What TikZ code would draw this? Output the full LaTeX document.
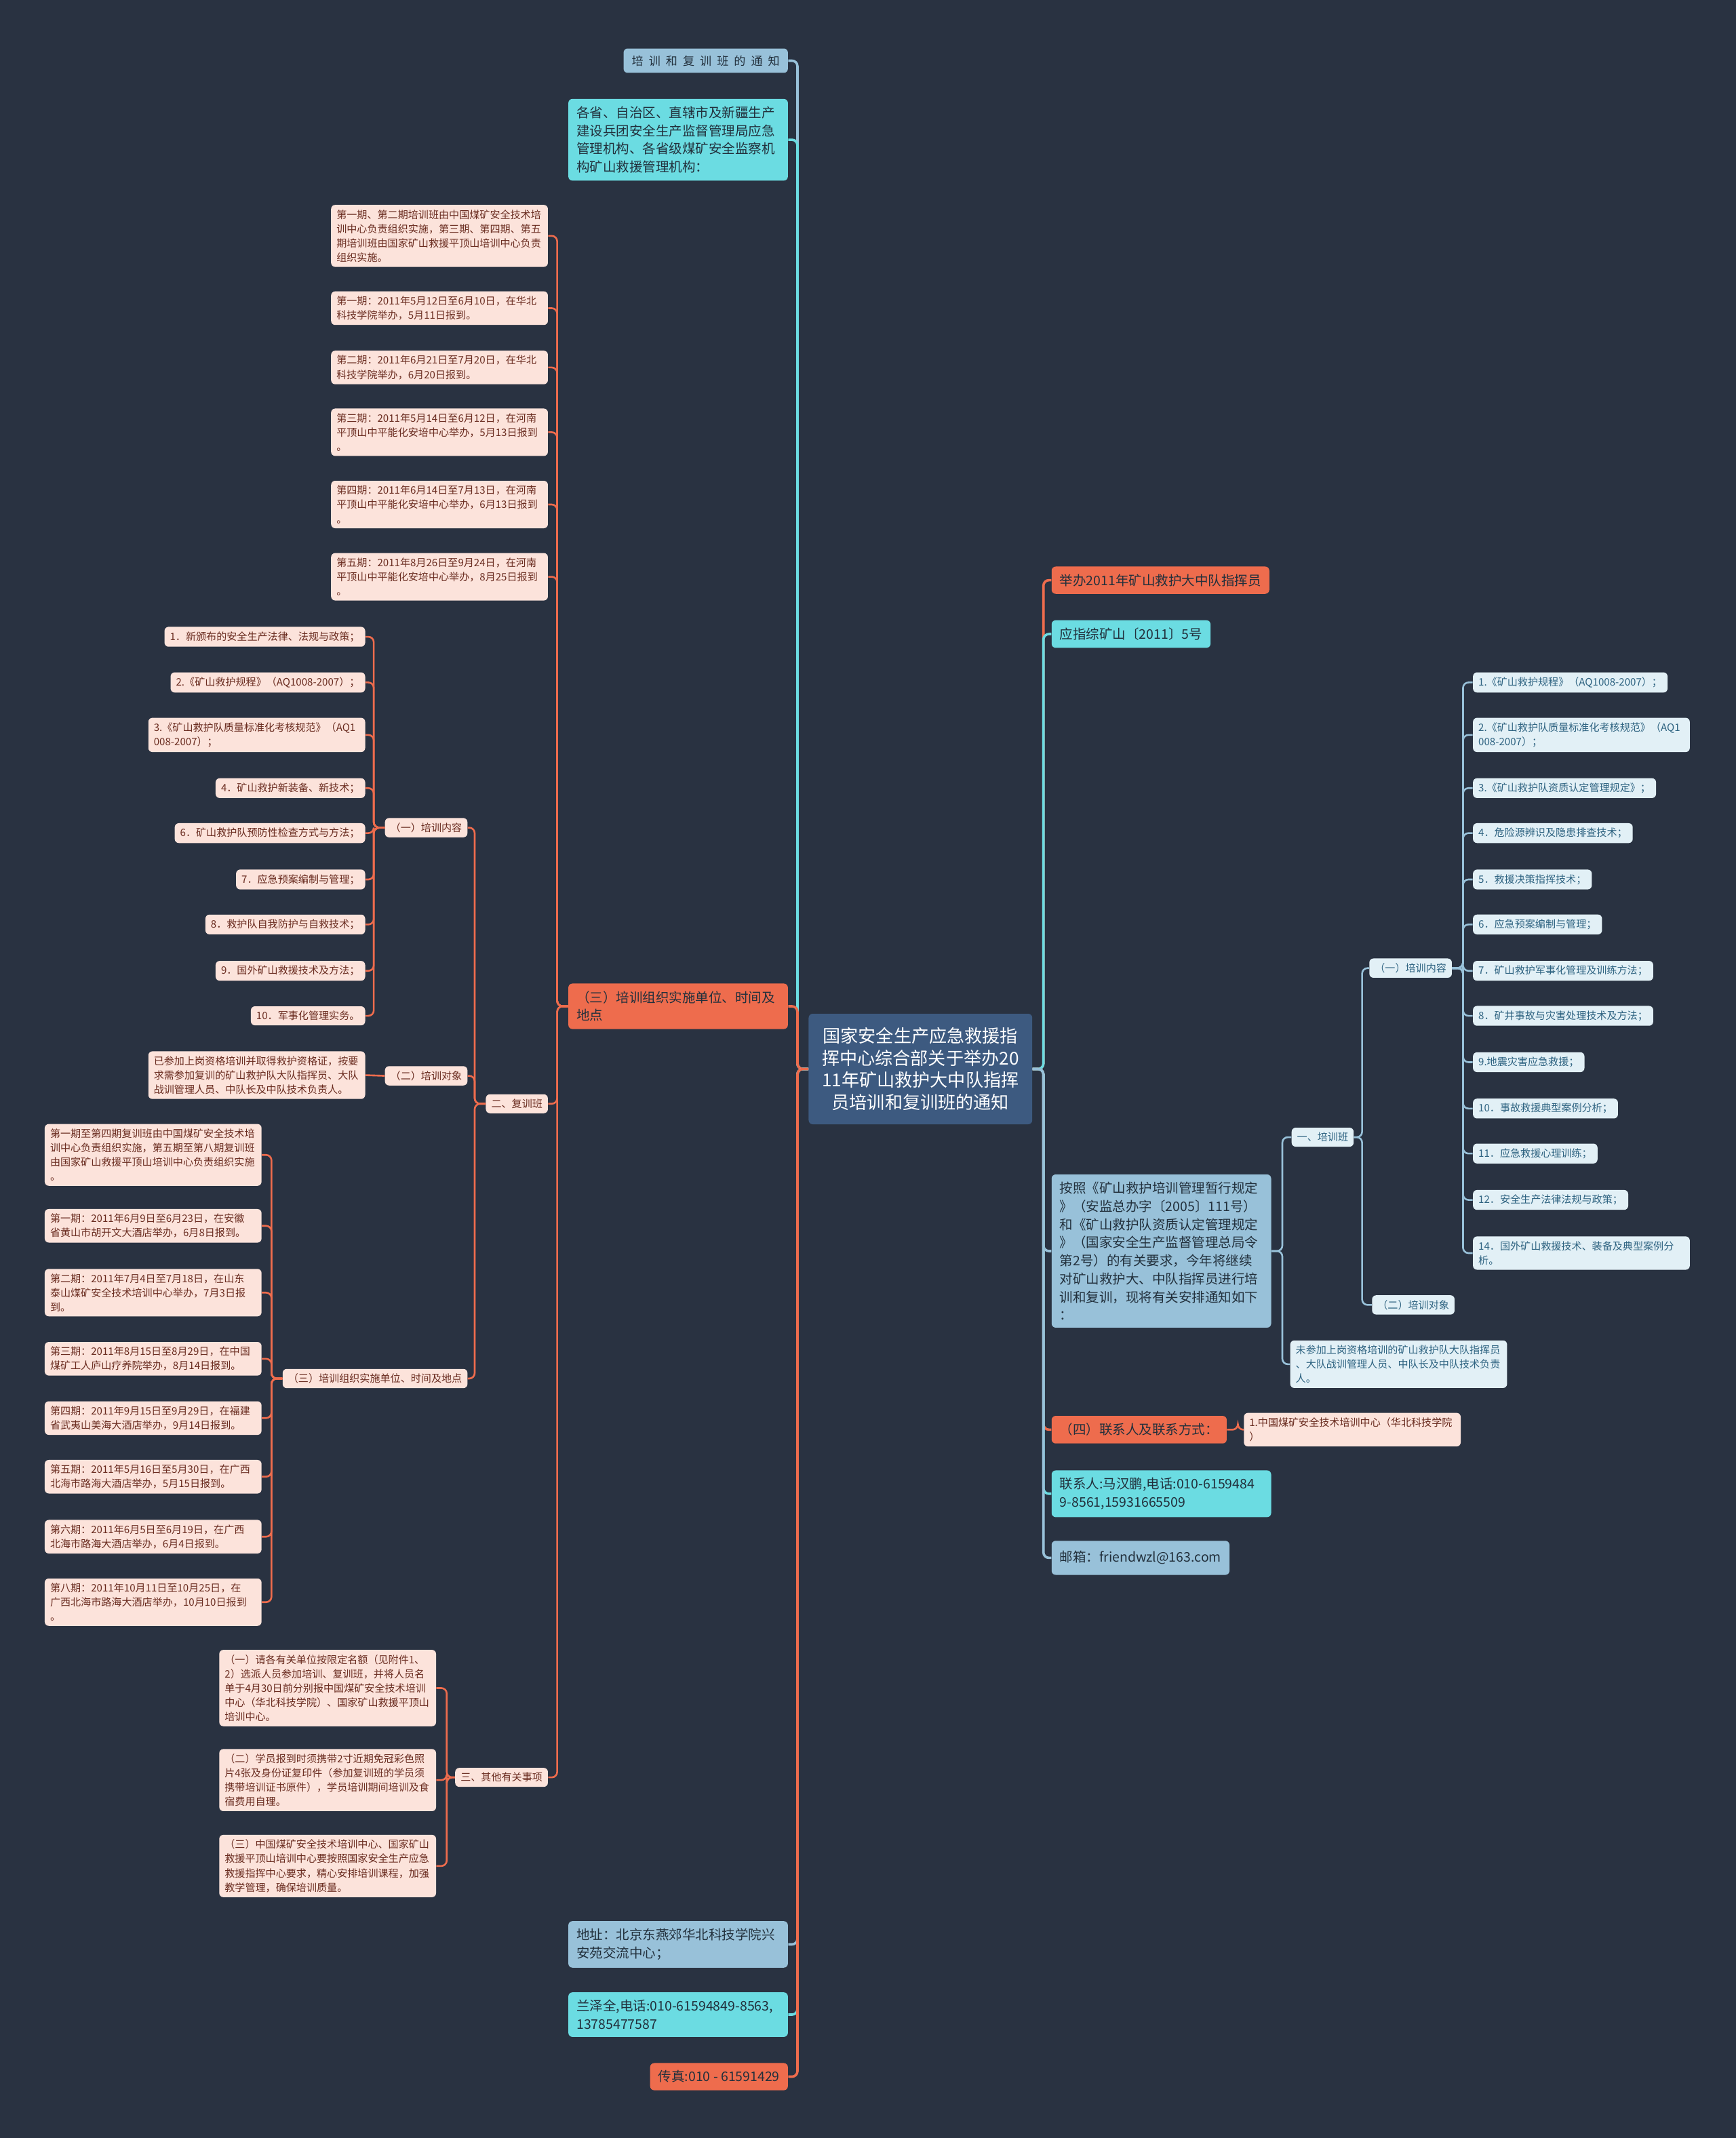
\documentclass[tikz,border=0pt]{standalone}
\usepackage{fontspec}
\setmainfont{Noto Sans CJK SC}
\usepackage{tikz}
\definecolor{bgdark}{HTML}{293241}
\definecolor{rootblue}{HTML}{3D5A80}
\definecolor{steel}{HTML}{98C1D9}
\definecolor{aqua}{HTML}{6BDCE2}
\definecolor{coral}{HTML}{EE6C4D}
\definecolor{peach}{HTML}{FCE3DB}
\definecolor{mist}{HTML}{E2F0F6}
\definecolor{inkbrown}{HTML}{6A2C20}
\definecolor{inkblue}{HTML}{2E6381}
\definecolor{inkdark}{HTML}{22303C}

\begin{document}
\begin{tikzpicture}[x=1pt, y=-1pt,
  base/.style={rectangle, rounded corners=3pt, align=left},
  big/.style={base, font=\fontsize{9.7}{13.3}\selectfont, inner xsep=6pt, inner ysep=5.5pt, text=inkdark},
  bigwide/.style={big, text width=149pt},
  small/.style={base, font=\fontsize{7.5}{10.5}\selectfont, inner xsep=4pt, inner ysep=3.5pt},
  pinkleaf/.style={small, fill=peach, text=inkbrown},
  blueleaf/.style={small, fill=mist, text=inkblue},
  wide/.style={text width=151pt},
  root/.style={rectangle, rounded corners=3pt, fill=rootblue, text=white, align=center, font=\fontsize{13}{16.3}\selectfont, minimum width=164pt, inner ysep=10pt},
  link/.style={line width=1.3pt, rounded corners=4pt},
  rootlink/.style={link, line width=1.8pt}
]
\fill[bgdark] (0,0) rectangle (1273,1568);

\node[root] (root) at (675,784) {国家安全生产应急救援指\\挥中心综合部关于举办20\\11年矿山救护大中队指挥\\员培训和复训班的通知};

\node[big, fill=steel, anchor=east, font=\fontsize{8.5}{10}\selectfont, inner ysep=5pt] (notice) at (578,44.5) {培\hspace{4pt}训\hspace{4pt}和\hspace{4pt}复\hspace{4pt}训\hspace{4pt}班\hspace{4pt}的\hspace{4pt}通\hspace{4pt}知};
\node[bigwide, fill=aqua, anchor=east] (prov) at (578,102.5) {各省、自治区、直辖市及新疆生产\\建设兵团安全生产监督管理局应急\\管理机构、各省级煤矿安全监察机\\构矿山救援管理机构：};
\node[bigwide, fill=coral, anchor=east] (org) at (578,738) {（三）培训组织实施单位、时间及\\地点};
\node[bigwide, fill=steel, anchor=east] (addr) at (578,1426) {地址：北京东燕郊华北科技学院兴\\安苑交流中心；};
\node[bigwide, fill=aqua, anchor=east] (lan) at (578,1477.5) {兰泽全,电话:010-61594849-8563,\\13785477587};
\node[big, fill=coral, anchor=east] (fax) at (578,1523) {传真:010 - 61591429};

\node[big, fill=coral, anchor=west] (hold) at (771,425.5) {举办2011年矿山救护大中队指挥员};
\node[big, fill=aqua, anchor=west] (docno) at (771,465) {应指综矿山〔2011〕5号};
\node[bigwide, fill=steel, anchor=west] (basis) at (771,917.5) {按照《矿山救护培训管理暂行规定\\》（安监总办字〔2005〕111号）\\和《矿山救护队资质认定管理规定\\》（国家安全生产监督管理总局令\\第2号）的有关要求，今年将继续\\对矿山救护大、中队指挥员进行培\\训和复训，现将有关安排通知如下\\：};
\node[big, fill=coral, anchor=west] (contact) at (771,1048.5) {（四）联系人及联系方式：};
\node[bigwide, fill=aqua, anchor=west] (phone) at (771,1095.5) {联系人:马汉鹏,电话:010-6159484\\9-8561,15931665509};
\node[big, fill=steel, anchor=west, minimum height=25pt] (mail) at (771,1142.5) {邮箱：friendwzl@163.com};
\node[pinkleaf, wide, anchor=west] (cinfo) at (912,1048.5) {1.中国煤矿安全技术培训中心（华北科技学院\\）};

\node[pinkleaf, wide, anchor=east] (p0) at (402,173) {第一期、第二期培训班由中国煤矿安全技术培\\训中心负责组织实施，第三期、第四期、第五\\期培训班由国家矿山救援平顶山培训中心负责\\组织实施。};
\node[pinkleaf, wide, anchor=east] (p1) at (402,226) {第一期：2011年5月12日至6月10日，在华北\\科技学院举办，5月11日报到。};
\node[pinkleaf, wide, anchor=east] (p2) at (402,269.5) {第二期：2011年6月21日至7月20日，在华北\\科技学院举办，6月20日报到。};
\node[pinkleaf, wide, anchor=east] (p3) at (402,317) {第三期：2011年5月14日至6月12日，在河南\\平顶山中平能化安培中心举办，5月13日报到\\。};
\node[pinkleaf, wide, anchor=east] (p4) at (402,370) {第四期：2011年6月14日至7月13日，在河南\\平顶山中平能化安培中心举办，6月13日报到\\。};
\node[pinkleaf, wide, anchor=east] (p5) at (402,423) {第五期：2011年8月26日至9月24日，在河南\\平顶山中平能化安培中心举办，8月25日报到\\。};
\node[pinkleaf, anchor=east] (refresher) at (402,809.5) {二、复训班};
\node[pinkleaf, anchor=east] (misc) at (402,1303.5) {三、其他有关事项};

\node[pinkleaf, anchor=east] (rcontent) at (343,607) {（一）培训内容};
\node[pinkleaf, anchor=east] (rtarget) at (343,789) {（二）培训对象};
\node[pinkleaf, anchor=east] (rplace) at (343,1011) {（三）培训组织实施单位、时间及地点};

\node[pinkleaf, anchor=east] (c1) at (268,467) {1．新颁布的安全生产法律、法规与政策；};
\node[pinkleaf, anchor=east] (c2) at (268,500.5) {2.《矿山救护规程》（AQ1008-2007）；};
\node[pinkleaf, wide, anchor=east] (c3) at (268,539) {3.《矿山救护队质量标准化考核规范》（AQ1\\008-2007）；};
\node[pinkleaf, anchor=east] (c4) at (268,578) {4．矿山救护新装备、新技术；};
\node[pinkleaf, anchor=east] (c6) at (268,611) {6．矿山救护队预防性检查方式与方法；};
\node[pinkleaf, anchor=east] (c7) at (268,645) {7．应急预案编制与管理；};
\node[pinkleaf, anchor=east] (c8) at (268,678) {8．救护队自我防护与自救技术；};
\node[pinkleaf, anchor=east] (c9) at (268,712) {9．国外矿山救援技术及方法；};
\node[pinkleaf, anchor=east] (c10) at (268,745) {10．军事化管理实务。};

\node[pinkleaf, wide, anchor=east] (rwho) at (268,788.5) {已参加上岗资格培训并取得救护资格证，按要\\求需参加复训的矿山救护队大队指挥员、大队\\战训管理人员、中队长及中队技术负责人。};

\node[pinkleaf, wide, anchor=east] (r0) at (192,847) {第一期至第四期复训班由中国煤矿安全技术培\\训中心负责组织实施，第五期至第八期复训班\\由国家矿山救援平顶山培训中心负责组织实施\\。};
\node[pinkleaf, wide, anchor=east] (r1) at (192,899) {第一期：2011年6月9日至6月23日，在安徽\\省黄山市胡开文大酒店举办，6月8日报到。};
\node[pinkleaf, wide, anchor=east] (r2) at (192,948) {第二期：2011年7月4日至7月18日，在山东\\泰山煤矿安全技术培训中心举办，7月3日报\\到。};
\node[pinkleaf, wide, anchor=east] (r3) at (192,996.5) {第三期：2011年8月15日至8月29日，在中国\\煤矿工人庐山疗养院举办，8月14日报到。};
\node[pinkleaf, wide, anchor=east] (r4) at (192,1040) {第四期：2011年9月15日至9月29日，在福建\\省武夷山美海大酒店举办，9月14日报到。};
\node[pinkleaf, wide, anchor=east] (r5) at (192,1083) {第五期：2011年5月16日至5月30日，在广西\\北海市路海大酒店举办，5月15日报到。};
\node[pinkleaf, wide, anchor=east] (r6) at (192,1127) {第六期：2011年6月5日至6月19日，在广西\\北海市路海大酒店举办，6月4日报到。};
\node[pinkleaf, wide, anchor=east] (r8) at (192,1175) {第八期：2011年10月11日至10月25日，在\\广西北海市路海大酒店举办，10月10日报到\\。};

\node[pinkleaf, wide, anchor=east] (m1) at (320,1238) {（一）请各有关单位按限定名额（见附件1、\\2）选派人员参加培训、复训班，并将人员名\\单于4月30日前分别报中国煤矿安全技术培训\\中心（华北科技学院）、国家矿山救援平顶山\\培训中心。};
\node[pinkleaf, wide, anchor=east] (m2) at (320,1305.5) {（二）学员报到时须携带2寸近期免冠彩色照\\片4张及身份证复印件（参加复训班的学员须\\携带培训证书原件），学员培训期间培训及食\\宿费用自理。};
\node[pinkleaf, wide, anchor=east] (m3) at (320,1368.5) {（三）中国煤矿安全技术培训中心、国家矿山\\救援平顶山培训中心要按照国家安全生产应急\\救援指挥中心要求，精心安排培训课程，加强\\教学管理，确保培训质量。};

\node[blueleaf, anchor=west] (train) at (947,834) {一、培训班};
\node[blueleaf, wide, anchor=west] (notyet) at (946,1000.5) {未参加上岗资格培训的矿山救护队大队指挥员\\、大队战训管理人员、中队长及中队技术负责\\人。};
\node[blueleaf, anchor=west] (tcontent) at (1004,710) {（一）培训内容};
\node[blueleaf, anchor=west] (ttarget) at (1006,957) {（二）培训对象};

\node[blueleaf, anchor=west] (t1) at (1080,500.5) {1.《矿山救护规程》（AQ1008-2007）；};
\node[blueleaf, wide, anchor=west] (t2) at (1080,539) {2.《矿山救护队质量标准化考核规范》（AQ1\\008-2007）；};
\node[blueleaf, anchor=west] (t3) at (1080,578) {3.《矿山救护队资质认定管理规定》；};
\node[blueleaf, anchor=west] (t4) at (1080,611) {4．危险源辨识及隐患排查技术；};
\node[blueleaf, anchor=west] (t5) at (1080,645) {5．救援决策指挥技术；};
\node[blueleaf, anchor=west] (t6) at (1080,678) {6．应急预案编制与管理；};
\node[blueleaf, anchor=west] (t7) at (1080,712) {7．矿山救护军事化管理及训练方法；};
\node[blueleaf, anchor=west] (t8) at (1080,745) {8．矿井事故与灾害处理技术及方法；};
\node[blueleaf, anchor=west] (t9) at (1080,779) {9.地震灾害应急救援；};
\node[blueleaf, anchor=west] (t10) at (1080,813) {10．事故救援典型案例分析；};
\node[blueleaf, anchor=west] (t11) at (1080,846) {11．应急救援心理训练；};
\node[blueleaf, anchor=west] (t12) at (1080,880) {12．安全生产法律法规与政策；};
\node[blueleaf, wide, anchor=west] (t14) at (1080,919) {14．国外矿山救援技术、装备及典型案例分\\析。};

\draw[rootlink, steel] (root.west) -- ++(-8,0) |- (notice.east);
\draw[rootlink, aqua] (root.west) -- ++(-8,0) |- (prov.east);
\draw[rootlink, coral] (root.west) -- ++(-8,0) |- (org.east);
\draw[rootlink, steel] (root.west) -- ++(-8,0) |- (addr.east);
\draw[rootlink, aqua] (root.west) -- ++(-8,0) |- (lan.east);
\draw[rootlink, coral] (root.west) -- ++(-8,0) |- (fax.east);

\draw[rootlink, coral] (root.east) -- ++(8,0) |- (hold.west);
\draw[rootlink, aqua] (root.east) -- ++(8,0) |- (docno.west);
\draw[rootlink, steel] (root.east) -- ++(8,0) |- (basis.west);
\draw[rootlink, coral] (root.east) -- ++(8,0) |- (contact.west);
\draw[rootlink, aqua] (root.east) -- ++(8,0) |- (phone.west);
\draw[rootlink, steel] (root.east) -- ++(8,0) |- (mail.west);

\draw[link, coral] (org.west) -- ++(-8,0) |- (p0.east);
\draw[link, coral] (org.west) -- ++(-8,0) |- (p1.east);
\draw[link, coral] (org.west) -- ++(-8,0) |- (p2.east);
\draw[link, coral] (org.west) -- ++(-8,0) |- (p3.east);
\draw[link, coral] (org.west) -- ++(-8,0) |- (p4.east);
\draw[link, coral] (org.west) -- ++(-8,0) |- (p5.east);
\draw[link, coral] (org.west) -- ++(-8,0) |- (refresher.east);
\draw[link, coral] (org.west) -- ++(-8,0) |- (misc.east);

\draw[link, coral] (refresher.west) -- ++(-8,0) |- (rcontent.east);
\draw[link, coral] (refresher.west) -- ++(-8,0) |- (rtarget.east);
\draw[link, coral] (refresher.west) -- ++(-8,0) |- (rplace.east);

\draw[link, coral] (rcontent.west) -- ++(-8,0) |- (c1.east);
\draw[link, coral] (rcontent.west) -- ++(-8,0) |- (c2.east);
\draw[link, coral] (rcontent.west) -- ++(-8,0) |- (c3.east);
\draw[link, coral] (rcontent.west) -- ++(-8,0) |- (c4.east);
\draw[link, coral] (rcontent.west) -- ++(-8,0) |- (c6.east);
\draw[link, coral] (rcontent.west) -- ++(-8,0) |- (c7.east);
\draw[link, coral] (rcontent.west) -- ++(-8,0) |- (c8.east);
\draw[link, coral] (rcontent.west) -- ++(-8,0) |- (c9.east);
\draw[link, coral] (rcontent.west) -- ++(-8,0) |- (c10.east);

\draw[link, coral] (rtarget.west) -- (rwho.east);

\draw[link, coral] (rplace.west) -- ++(-8,0) |- (r0.east);
\draw[link, coral] (rplace.west) -- ++(-8,0) |- (r1.east);
\draw[link, coral] (rplace.west) -- ++(-8,0) |- (r2.east);
\draw[link, coral] (rplace.west) -- ++(-8,0) |- (r3.east);
\draw[link, coral] (rplace.west) -- ++(-8,0) |- (r4.east);
\draw[link, coral] (rplace.west) -- ++(-8,0) |- (r5.east);
\draw[link, coral] (rplace.west) -- ++(-8,0) |- (r6.east);
\draw[link, coral] (rplace.west) -- ++(-8,0) |- (r8.east);

\draw[link, coral] (misc.west) -- ++(-6,0) |- (m1.east);
\draw[link, coral] (misc.west) -- ++(-6,0) |- (m2.east);
\draw[link, coral] (misc.west) -- ++(-6,0) |- (m3.east);

\draw[link, coral] (contact.east) -- ++(8,0) |- (cinfo.west);

\draw[link, steel] (basis.east) -- ++(8,0) |- (train.west);
\draw[link, steel] (basis.east) -- ++(8,0) |- (notyet.west);
\draw[link, steel] (train.east) -- ++(6,0) |- (tcontent.west);
\draw[link, steel] (train.east) -- ++(6,0) |- (ttarget.west);

\draw[link, steel] (tcontent.east) -- ++(8,0) |- (t1.west);
\draw[link, steel] (tcontent.east) -- ++(8,0) |- (t2.west);
\draw[link, steel] (tcontent.east) -- ++(8,0) |- (t3.west);
\draw[link, steel] (tcontent.east) -- ++(8,0) |- (t4.west);
\draw[link, steel] (tcontent.east) -- ++(8,0) |- (t5.west);
\draw[link, steel] (tcontent.east) -- ++(8,0) |- (t6.west);
\draw[link, steel] (tcontent.east) -- ++(8,0) |- (t7.west);
\draw[link, steel] (tcontent.east) -- ++(8,0) |- (t8.west);
\draw[link, steel] (tcontent.east) -- ++(8,0) |- (t9.west);
\draw[link, steel] (tcontent.east) -- ++(8,0) |- (t10.west);
\draw[link, steel] (tcontent.east) -- ++(8,0) |- (t11.west);
\draw[link, steel] (tcontent.east) -- ++(8,0) |- (t12.west);
\draw[link, steel] (tcontent.east) -- ++(8,0) |- (t14.west);
\end{tikzpicture}
\end{document}
